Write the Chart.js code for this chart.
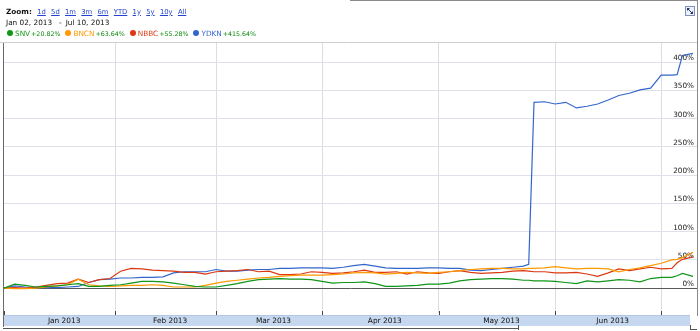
<!DOCTYPE html>
<html><head><meta charset="utf-8">
<script src="https://cdn.jsdelivr.net/npm/chart.js@4.4.1/dist/chart.umd.min.js"></script>
<style>
html,body{margin:0;padding:0;background:#fff;}
#wrap{position:relative;width:700px;height:331px;overflow:hidden;font-family:"DejaVu Sans",Verdana,sans-serif;color:#111;}
#c{position:absolute;left:0;top:0;}
.row{position:absolute;left:6px;white-space:nowrap;line-height:10px;height:10px;}
#zoomRow{top:6.5px;font-size:7.3px;}
#zoomRow a{color:#2244cc;text-decoration:underline;font-size:6.8px;margin-left:5.3px;}
#dateRow{top:17.5px;font-size:7.3px;}
#dateRow .sep{margin:0 4px 0 7px;}
#legendRow{top:28.5px;font-size:7.3px;left:7px;}
.item{display:inline-block;margin-right:5px;}
.dot{display:inline-block;width:6px;height:6px;border-radius:50%;margin-right:2px;vertical-align:-0.5px;}
.chg{font-size:6.3px;color:#0a8a0a;margin-left:1px;}
</style></head>
<body><div id="wrap"><canvas id="c" width="700" height="331"></canvas>
<div id="zoomRow" class="row"></div><div id="dateRow" class="row"></div><div id="legendRow" class="row"></div></div>
<script>
// ---- data ----
const tradingDay = [0,2,4,6,8,10,12,14,16,18,20,22,24,26,28,30,32,34,36,38,40,42,44,46,48,50,52,54,56,58,60,62,64,66,68,70,72,74,76,78,80,82,84,86,88,90,92,94,96,98,99,100,102,104,106,108,110,112,114,116,118,120,122,124,126,127,128,130];
const snv  = [0,7,5,2,3,4,6,8,3,3, 5,6,9,12,12,11,9,6,3,2, 2,5,8,12,15,16,17,16,16,15, 12,9,10,10,11,8,3,3,4,5, 7,7,9,13,15,16,17,17,16,14, 14,13, 13,12,10,8,13,11,13,15,14,11,17,19,19, 22,26,20.82];
const bncn = [0,-1,-1,0,2,4,6,16,6,4, 3,4,5,5,6,5,2,2,2,5, 9,12,14,16,18,19,21,22,23,23, 23,24,25,27,28,27,25,26,28,27, 26,28,29,31,33,34,35,35,34,34, 35,35, 36,38,36,34,35,35,34,29,33,36,40,44,50, 51,54,63.64];
const nbbc = [0,1,0,2,5,8,9,16,10,15, 17,30,35,34,32,31,30,28,28,25, 29,30,31,33,29,30,24,24,25,29, 28,26,27,29,32,28,28,29,25,29, 27,26,29,31,28,26,27,28,30,31, 30,29, 29,27,27,28,25,21,27,34,31,34,37,34,35, 45,51,55.28];
const ydkn = [0,4,2,1,1,1,2,3,10,15, 16,18,18,19,19,20,27,29,29,29, 33,30,30,32,33,33,35,35,36,36, 36,35,37,40,42,39,36,35,35,35, 36,36,35,35,32,31,33,35,37,39, 42,329, 330,326,329,319,322,326,333,341,345,351,354,377,377, 378,412,415.64];
const seriesNames = ['SNV','BNCN','NBBC','YDKN'];
const seriesChanges = ['+20.82%','+63.64%','+55.28%','+415.64%'];
const yTickValues = [0,50,100,150,200,250,300,350,400];
const monthStartDay = [0,21,40,60,82,104,124];
const monthLabels = ['Jan 2013','Feb 2013','Mar 2013','Apr 2013','May 2013','Jun 2013'];
const zoomOptions = ['1d','5d','1m','3m','6m','YTD','1y','5y','10y','All'];
const startDate = 'Jan 02, 2013', endDate = 'Jul 10, 2013';

// ---- styles ----
const seriesColors = ['#109618','#ff9900','#dc3912','#3366cc'];
const FONT = '"DejaVu Sans", Verdana, sans-serif';

// ---- header (HTML text) ----
const zr = document.getElementById('zoomRow');
zr.innerHTML = '<b>Zoom:</b>' + zoomOptions.map(z => '<a>' + z + '</a>').join('');
document.getElementById('dateRow').innerHTML = '<span>' + startDate + '</span><span class="sep">-</span><span>' + endDate + '</span>';
document.getElementById('legendRow').innerHTML = seriesNames.map((n, i) =>
  '<span class="item"><span class="dot" style="background:' + seriesColors[i] + '"></span><span style="color:' + seriesColors[i] + '">' + n + '</span><span class="chg">' + seriesChanges[i] + '</span></span>').join('');

// ---- chart ----
const seriesValues = [snv, bncn, nbbc, ydkn];
const datasets = seriesNames.map((n, i) => ({
  label: n,
  data: tradingDay.map((d, k) => ({x: d, y: seriesValues[i][k]})),
  borderColor: seriesColors[i],
  borderWidth: 1.2,
  pointRadius: 0,
  fill: false,
  tension: 0
}));

function seg(ctx, x1, y1, x2, y2, c) {
  ctx.strokeStyle = c; ctx.lineWidth = 1;
  ctx.beginPath(); ctx.moveTo(x1, y1); ctx.lineTo(x2, y2); ctx.stroke();
}

const deco = {
  id: 'deco',
  afterDraw(chart) {
    const ctx = chart.ctx, xs = chart.scales.x;
    ctx.save();
    seg(ctx, 0, 42.5, 697, 42.5, '#cfcfcf');
    seg(ctx, 350, 0.5, 698, 0.5, '#8a8a8a');
    seg(ctx, 697.5, 0, 697.5, 316, '#8a8a8a');
    seg(ctx, 3.5, 43, 3.5, 327, '#6a6a6a');
    ctx.fillStyle = '#c6d8f0';
    ctx.fillRect(4, 315, 686, 11);
    seg(ctx, 4, 315.5, 690, 315.5, '#b3c7e4');
    monthStartDay.forEach(d => {
      const px = Math.round(xs.getPixelForValue(d)) + 0.5;
      seg(ctx, px, 311, px, 315, '#444');
    });
    ctx.fillStyle = '#111';
    ctx.font = '7.4px ' + FONT;
    ctx.textAlign = 'center';
    ctx.textBaseline = 'middle';
    monthLabels.forEach((m, i) => {
      const p1 = xs.getPixelForValue(monthStartDay[i]);
      const p2 = xs.getPixelForValue(monthStartDay[i + 1]);
      ctx.fillText(m, (p1 + p2) / 2 + 4.5, 321);
    });
    seg(ctx, 3, 328.5, 518, 328.5, '#555');
    seg(ctx, 518.5, 325, 518.5, 330, '#555');
    seg(ctx, 690.5, 325, 690.5, 330, '#555');
    seg(ctx, 690, 329.5, 697, 329.5, '#555');
    ctx.fillStyle = '#eef2fb';
    ctx.fillRect(685, 6, 10, 10);
    ctx.strokeStyle = '#7f8fb5'; ctx.strokeRect(685.5, 6.5, 9, 9);
    seg(ctx, 687, 8, 693, 14, '#223377');
    ctx.fillStyle = '#223377';
    ctx.beginPath(); ctx.moveTo(687, 8); ctx.lineTo(690, 8); ctx.lineTo(687, 11); ctx.fill();
    ctx.beginPath(); ctx.moveTo(693, 14); ctx.lineTo(690, 14); ctx.lineTo(693, 11); ctx.fill();
    ctx.restore();
  }
};

new Chart(document.getElementById('c'), {
  type: 'line',
  data: { datasets },
  options: {
    responsive: false,
    animation: false,
    devicePixelRatio: 1,
    layout: { padding: { top: 43, bottom: 18, left: 4, right: 3 } },
    plugins: { legend: { display: false }, tooltip: { enabled: false } },
    scales: {
      x: {
        type: 'linear', min: 0, max: 130.75, position: 'bottom',
        afterBuildTicks: s => { s.ticks = monthStartDay.slice(1).map(v => ({value: v})); },
        afterFit: s => { s.height = 0; },
        grid: { color: '#dcdce4', drawTicks: false },
        border: { display: false },
        ticks: { display: false }
      },
      y: {
        type: 'linear', position: 'right', min: -44, max: 434,
        afterBuildTicks: s => { s.ticks = yTickValues.map(v => ({value: v})); },
        afterFit: s => { s.width = 0; },
        grid: { color: c => (c.tick && c.tick.value === 0) ? '#5a5a5a' : '#e0e0ea', drawTicks: false },
        border: { display: false },
        ticks: {
          mirror: true, padding: -3, labelOffset: -4, color: '#222',
          font: { family: FONT, size: 7.3 },
          callback: v => v + '%'
        }
      }
    }
  },
  plugins: [deco]
});
</script></body></html>
